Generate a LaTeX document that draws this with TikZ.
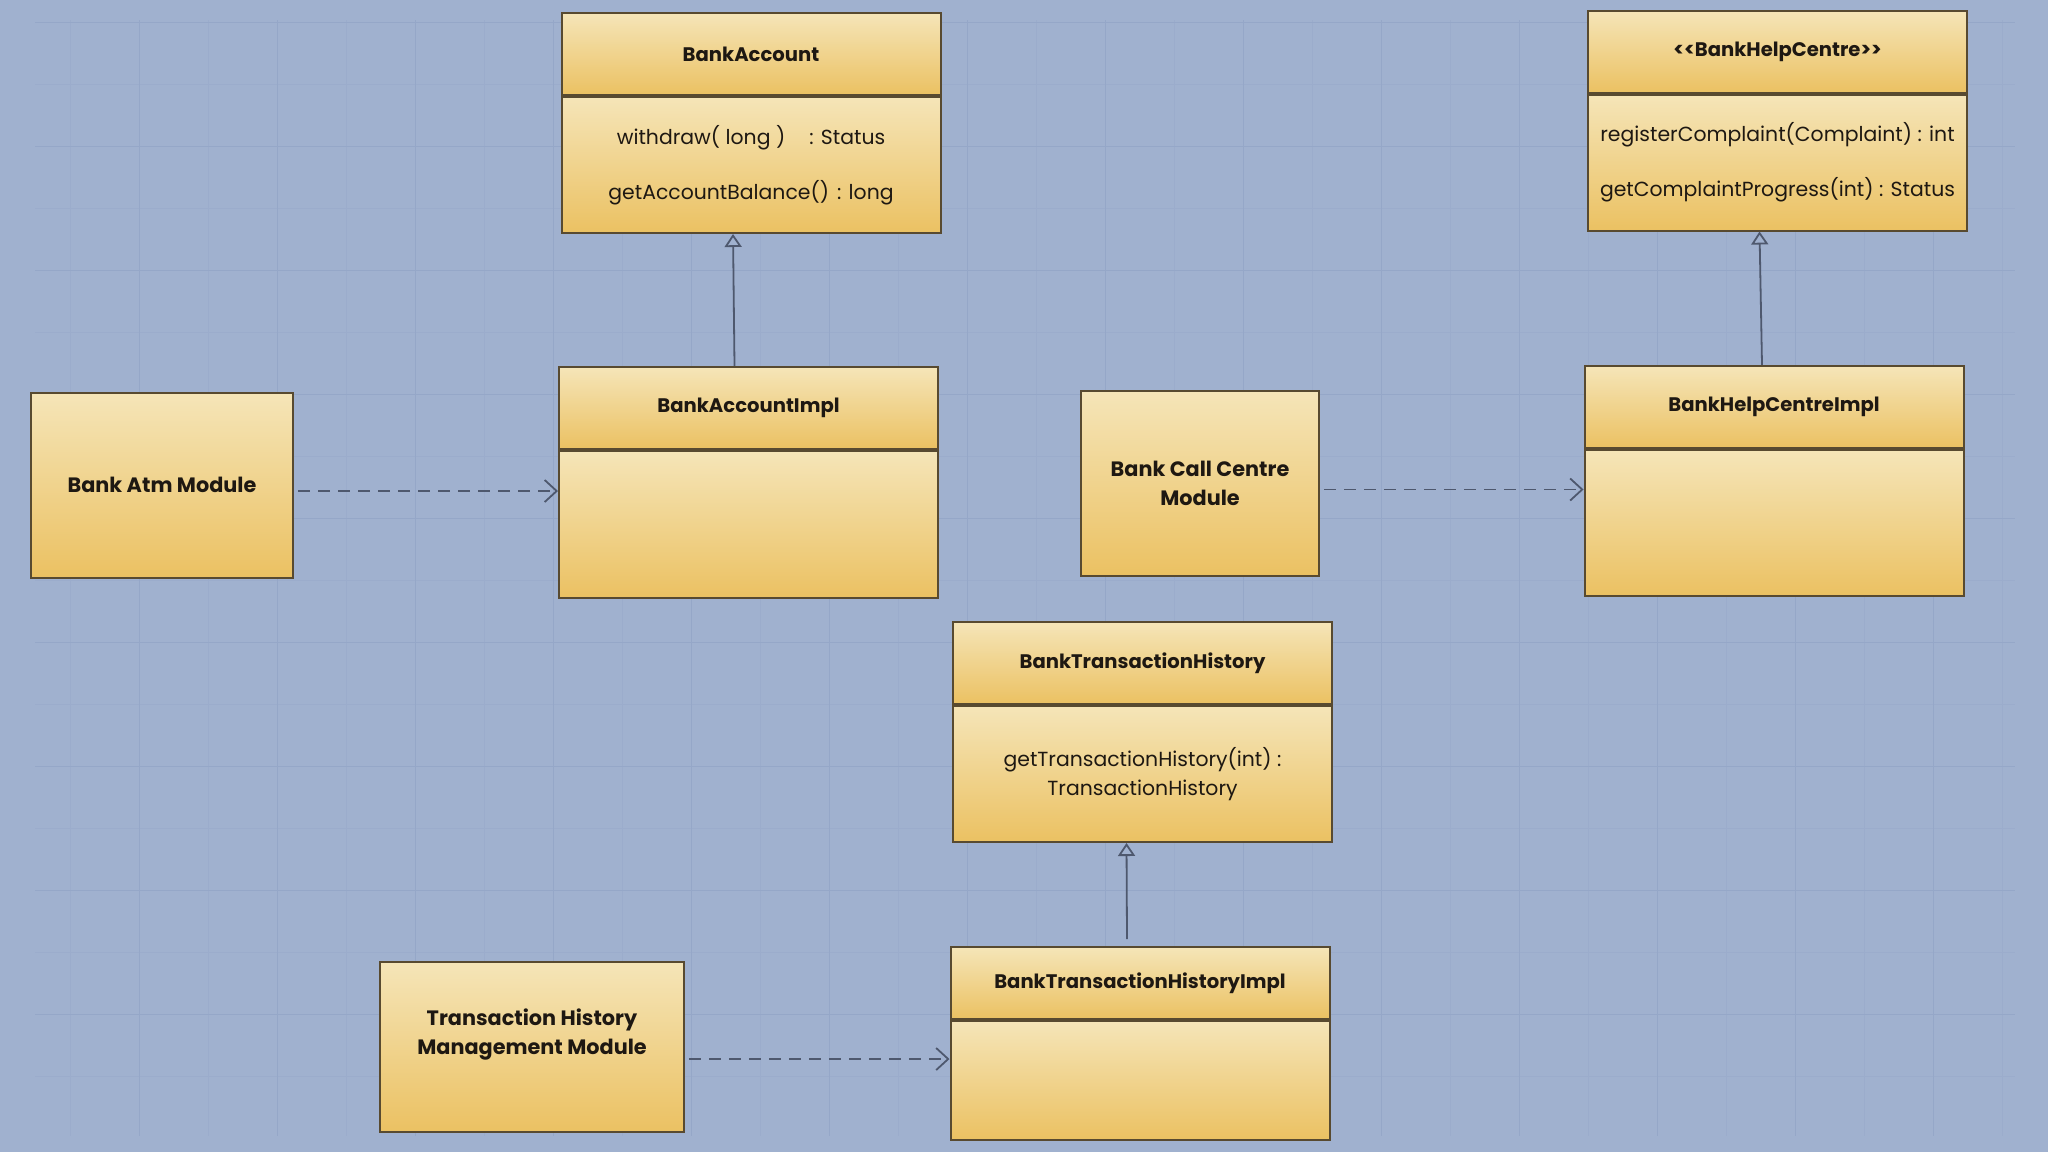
\documentclass[tikz,border=0pt]{standalone}
\usepackage{fontspec}
\setmainfont{Poppins}
\usetikzlibrary{arrows.meta, positioning}
\definecolor{bgblue}{RGB}{160,177,207}
\definecolor{gridminor}{RGB}{155,172,204}
\definecolor{gridmajor}{RGB}{149,167,200}
\definecolor{boxtop}{RGB}{245,229,184}
\definecolor{boxbot}{RGB}{235,193,98}
\definecolor{edge}{RGB}{88,74,48}
\definecolor{wire}{RGB}{78,88,110}
\definecolor{ink}{RGB}{30,24,18}

\begin{document}
\begin{tikzpicture}[x=0.5pt, y=-0.5pt,
    cls/.style={draw=edge, line width=1pt, top color=boxtop, bottom color=boxbot, text=ink,
                minimum width=189.5pt, minimum height=41pt, inner sep=0pt,
                font=\bfseries\fontsize{9.8}{11}\selectfont},
    ops/.style={draw=edge, line width=1pt, top color=boxtop, bottom color=boxbot, text=ink,
                minimum width=189.5pt, minimum height=68pt, inner sep=0pt, align=center,
                font=\fontsize{10.2}{27.5}\selectfont},
    mod/.style={draw=edge, line width=1pt, top color=boxtop, bottom color=boxbot, text=ink,
                inner sep=0pt, align=center, font=\bfseries\fontsize{10.4}{14.5}\selectfont},
    inh/.style={draw=wire, line width=0.9pt, -{Triangle[open, length=6.5pt, width=8.5pt]}},
    dep/.style={draw=wire, line width=0.9pt, dash pattern=on 6pt off 4pt, shorten <=2pt,
                -{Straight Barb[length=6pt, width=11pt]}}
]
\useasboundingbox (0,0) rectangle (2048,1152);
\fill[bgblue] (0,0) rectangle (2048,1152);
\foreach \gx in {70,139,...,2010} \draw[gridminor, line width=0.4pt] (\gx,20) -- (\gx,1136);
\foreach \gy in {22,84,...,1136} \draw[gridminor, line width=0.4pt] (35,\gy) -- (2015,\gy);
\foreach \gx in {139,277,...,2010} \draw[gridmajor, line width=0.5pt] (\gx,20) -- (\gx,1136);
\foreach \gy in {22,146,...,1136} \draw[gridmajor, line width=0.5pt] (35,\gy) -- (2015,\gy);

\node[cls] (acc) at (751,54) {BankAccount};
\node[ops, below=0pt of acc] (accOps) {withdraw( long )\hspace{12pt}: Status\\getAccountBalance()\hspace{4pt}: long};
\node[cls] (accImpl) at (748.5,408) {BankAccountImpl};
\node[ops, minimum height=73.5pt, below=0pt of accImpl] (accImplBody) {};

\node[cls] (help) at (1777.5,51.5) {<{}<BankHelpCentre>{}>};
\node[ops, below=0pt of help] (helpOps) {registerComplaint(Complaint) : int\\getComplaintProgress(int) : Status};
\node[cls] (helpImpl) at (1774,407) {BankHelpCentreImpl};
\node[ops, minimum height=73pt, below=0pt of helpImpl] (helpImplBody) {};

\node[cls] (hist) at (1142.5,663) {BankTransactionHistory};
\node[ops, font=\fontsize{10.2}{14.5}\selectfont, below=0pt of hist] (histOps) {getTransactionHistory(int) :\\TransactionHistory};
\node[cls, minimum height=36pt] (histImpl) at (1140,983) {BankTransactionHistoryImpl};
\node[ops, minimum height=59.5pt, below=0pt of histImpl] (histImplBody) {};

\node[mod, minimum width=131pt, minimum height=92.5pt] (atm) at (162,485) {Bank Atm Module};
\node[mod, minimum width=119pt, minimum height=92.5pt] (call) at (1200,483.5) {Bank Call Centre\\Module};
\node[mod, minimum width=152pt, minimum height=85pt, text depth=15pt] (mgmt) at (532,1047) {Transaction History\\Management Module};

\draw[inh] ([xshift=-7pt]accImpl.north) -- ([xshift=-9pt]accOps.south);
\draw[inh] ([xshift=-6pt]helpImpl.north) -- ([xshift=-9pt]helpOps.south);
\draw[inh] ([xshift=-6.5pt, yshift=3.5pt]histImpl.north) -- ([xshift=-8pt]histOps.south);

\coordinate (atmOut) at ([yshift=-3pt]atm.east);
\coordinate (callOut) at ([yshift=-3pt]call.east);
\coordinate (mgmtOut) at ([yshift=-6pt]mgmt.east);
\draw[dep] (atmOut) -- (atmOut -| accImplBody.west);
\draw[dep] (callOut) -- (callOut -| helpImplBody.west);
\draw[dep] (mgmtOut) -- (mgmtOut -| histImplBody.west);
\end{tikzpicture}
\end{document}
